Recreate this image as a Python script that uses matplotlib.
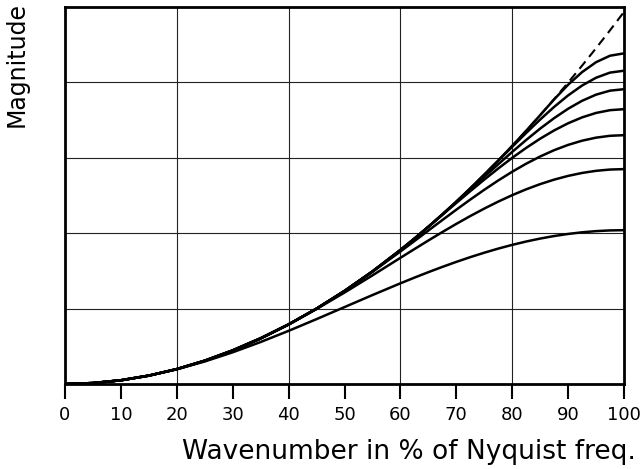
import numpy as np
import matplotlib
matplotlib.use("Agg")
import matplotlib.pyplot as plt

# wavenumber in % of nyquist (finer steps near the end where the curves bend)
wavenumber = [0, 5, 10, 15, 20, 25, 30, 35, 40, 45, 50, 55, 60, 62.5, 65, 67.5, 70, 72.5,
              75, 77.5, 80, 82.5, 85, 87.5, 90, 92.5, 95, 97.5, 100]

# dashed reference curve
exact = [0, 0.0247, 0.0987, 0.2221, 0.3948, 0.6169, 0.8883, 1.2090, 1.5791, 1.9986, 2.4674,
         2.9856, 3.5531, 3.8553, 4.1699, 4.4968, 4.8361, 5.1877, 5.5517, 5.9279, 6.3165,
         6.7175, 7.1308, 7.5564, 7.9944, 8.4447, 8.9073, 9.3823, 9.8696]

# solid curves, top to bottom at 100%
curve_a = [0, 0.0247, 0.0987, 0.2221, 0.3948, 0.6169, 0.8883, 1.2090, 1.5791, 1.9986, 2.4674,
           2.9856, 3.5531, 3.8553, 4.1699, 4.4968, 4.8361, 5.1877, 5.5517, 5.9279, 6.3165,
           6.7175, 7.1308, 7.549, 7.938, 8.273, 8.536, 8.708, 8.770]
curve_b = [0, 0.0247, 0.0987, 0.2221, 0.3948, 0.6169, 0.8883, 1.2090, 1.5791, 1.9986, 2.4674,
           2.9856, 3.5531, 3.8553, 4.1699, 4.4968, 4.8361, 5.1877, 5.5517, 5.921, 6.292,
           6.659, 7.015, 7.350, 7.655, 7.917, 8.124, 8.260, 8.310]
curve_c = [0, 0.0247, 0.0987, 0.2221, 0.3948, 0.6169, 0.8883, 1.2090, 1.5791, 1.9986, 2.4674,
           2.9856, 3.5531, 3.8553, 4.1699, 4.495, 4.826, 5.160, 5.495, 5.828, 6.156,
           6.473, 6.774, 7.052, 7.301, 7.512, 7.675, 7.781, 7.820]
curve_d = [0, 0.0247, 0.0987, 0.2221, 0.3948, 0.6169, 0.8883, 1.2090, 1.5791, 1.9986, 2.4674,
           2.9856, 3.5531, 3.8553, 4.169, 4.486, 4.802, 5.115, 5.421, 5.716, 5.999,
           6.263, 6.507, 6.726, 6.916, 7.072, 7.190, 7.263, 7.290]
curve_e = [0, 0.0247, 0.0986, 0.2216, 0.3935, 0.6147, 0.8853, 1.2061, 1.5775, 1.9984, 2.4663,
           2.9749, 3.5143, 3.7912, 4.0701, 4.3484, 4.6233, 4.8920, 5.1516, 5.3987, 5.6304,
           5.8434, 6.0347, 6.2020, 6.3422, 6.4537, 6.5345, 6.5836, 6.600]
curve_f = [0, 0.0247, 0.0989, 0.2231, 0.3975, 0.6223, 0.8967, 1.2187, 1.5849, 1.9896, 2.4250,
           2.8813, 3.3463, 3.5779, 3.8065, 4.0302, 4.2470, 4.4552, 4.6527, 4.8379, 5.0089,
           5.1641, 5.3018, 5.4209, 5.5199, 5.5981, 5.6545, 5.6886, 5.700]
curve_g = [0, 0.0251, 0.0998, 0.2224, 0.3896, 0.5975, 0.8409, 1.1138, 1.4096, 1.7209, 2.0400,
           2.3591, 2.6704, 2.8207, 2.9662, 3.1059, 3.2391, 3.3649, 3.4825, 3.5912, 3.6904,
           3.7794, 3.8576, 3.9248, 3.9802, 4.0237, 4.0549, 4.0737, 4.080]

x_ticks = [0, 10, 20, 30, 40, 50, 60, 70, 80, 90, 100]
x_grid = [20, 40, 60, 80]
y_grid = [2, 4, 6, 8]

plt.rcParams['font.family'] = ['DejaVu Sans']

fig = plt.figure(figsize=(6.44, 4.69), dpi=100)
ax = fig.add_axes([65 / 644, 85 / 469, 559 / 644, 377 / 469])

# thin grid first so the curves sit on top
for gx in x_grid:
    ax.axvline(gx, color="#222222", linewidth=0.8, zorder=1)
for gy in y_grid:
    ax.axhline(gy, color="#222222", linewidth=0.8, zorder=1)

for c in [curve_g, curve_f, curve_e, curve_d, curve_c, curve_b, curve_a]:
    ax.plot(wavenumber, c, color="black", linewidth=1.8, solid_capstyle="butt", zorder=3)

ax.plot(wavenumber, exact, color="black", linewidth=1.5, linestyle=(0, (4.5, 2.8)), zorder=2)

ax.set_xlim(0, 100)
ax.set_ylim(0, 10)
ax.set_xticks(x_ticks)
ax.set_xticklabels([str(t) for t in x_ticks], fontsize=13)
ax.set_yticks([])
ax.tick_params(axis="x", direction="out", length=10.5, width=1.5, pad=5)

for side in ["left", "right", "top", "bottom"]:
    ax.spines[side].set_linewidth(2.0)

fig.text(636 / 644, 10 / 469, "Wavenumber in % of Nyquist freq.", ha="right", va="baseline",
         fontsize=19)
fig.text(17 / 644, 1 - 2 / 469, "Magnitude", rotation=90, ha="center", va="top", fontsize=17)

fig.savefig("out.png", dpi=100)
